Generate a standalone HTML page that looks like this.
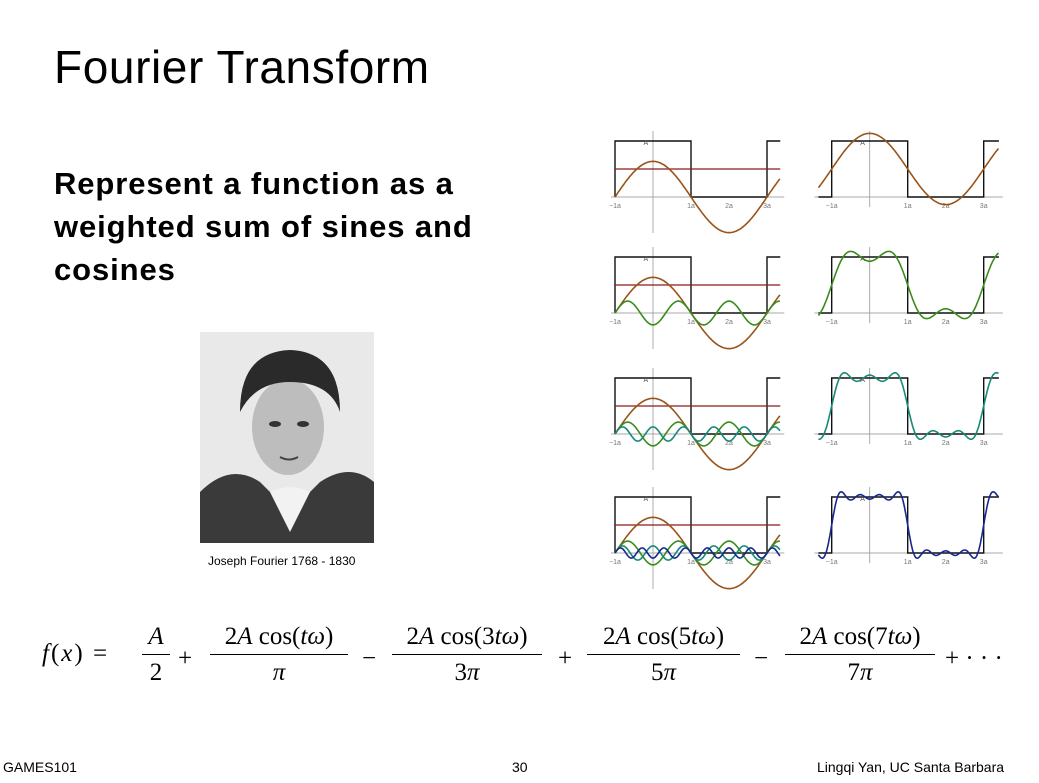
<!DOCTYPE html>
<html><head><meta charset="utf-8">
<style>
body{margin:0;background:#fff;}
#slide{position:relative;width:1039px;height:783px;overflow:hidden;background:#fff;font-family:"Liberation Sans",sans-serif;color:#000;}
.abs{position:absolute;white-space:nowrap;}
.m{font-family:"Liberation Serif",serif;font-size:25px;}
.i{font-style:italic;}
.frac{position:absolute;top:620px;text-align:center;font-family:"Liberation Serif",serif;font-size:25px;}
.frac .num{height:34px;line-height:34px;}
.frac .bar{border-top:1.3px solid #000;}
.frac .den{height:34px;line-height:36px;}
</style></head><body>
<div id="slide">
<div class="abs" style="left:54px;top:40px;font-size:46px;font-weight:300;letter-spacing:0.6px;">Fourier Transform</div>
<div class="abs" style="left:54px;top:162px;font-size:31px;font-weight:bold;line-height:43px;letter-spacing:0.9px;">Represent a function as a<br>weighted sum of sines and<br>cosines</div>

<svg class="abs" style="left:200px;top:332px" width="174" height="211">
<rect width="174" height="211" fill="#e9e9e9"/>
<path d="M0 211 L0 160 Q30 130 60 150 L90 180 L120 150 Q150 130 174 150 L174 211Z" fill="#3a3a3a"/>
<path d="M70 160 L90 200 L110 160 Q90 150 70 160Z" fill="#f2f2f2"/>
<ellipse cx="88" cy="95" rx="36" ry="48" fill="#bdbdbd"/>
<path d="M40 80 Q40 20 90 18 Q140 20 140 80 Q130 50 90 50 Q55 50 40 80Z" fill="#2a2a2a"/>
<ellipse cx="75" cy="92" rx="6" ry="3" fill="#333"/><ellipse cx="103" cy="92" rx="6" ry="3" fill="#333"/>
<path d="M80 125 Q89 130 98 125" stroke="#444" stroke-width="2" fill="none"/>
</svg>
<div class="abs" style="left:208px;top:554px;font-size:12px;">Joseph Fourier 1768 - 1830</div>

<svg id="plots" class="abs" style="left:0;top:0" width="1039" height="610"></svg>

<div class="abs m" style="left:42px;top:640px;letter-spacing:2px;"><span class="i">f</span>(<span class="i">x</span>)&nbsp;=</div>
<div class="frac" style="left:142px;width:28px;"><div class="num i">A</div><div class="bar"></div><div class="den">2</div></div>
<div class="abs m" style="left:178px;top:645px;">+</div>
<div class="frac" style="left:210px;width:138px;"><div class="num">2<span class="i">A</span> cos(<span class="i">tω</span>)</div><div class="bar"></div><div class="den i">π</div></div>
<div class="abs m" style="left:362px;top:645px;">−</div>
<div class="frac" style="left:392px;width:150px;"><div class="num">2<span class="i">A</span> cos(3<span class="i">tω</span>)</div><div class="bar"></div><div class="den">3<span class="i">π</span></div></div>
<div class="abs m" style="left:558px;top:645px;">+</div>
<div class="frac" style="left:587px;width:153px;"><div class="num">2<span class="i">A</span> cos(5<span class="i">tω</span>)</div><div class="bar"></div><div class="den">5<span class="i">π</span></div></div>
<div class="abs m" style="left:754px;top:645px;">−</div>
<div class="frac" style="left:785px;width:150px;"><div class="num">2<span class="i">A</span> cos(7<span class="i">tω</span>)</div><div class="bar"></div><div class="den">7<span class="i">π</span></div></div>
<div class="abs m" style="left:945px;top:645px;">+ · · ·</div>

<div class="abs" style="left:3px;top:759px;font-size:14px;">GAMES101</div>
<div class="abs" style="left:512px;top:759px;font-size:14px;">30</div>
<div class="abs" style="left:817px;top:759px;font-size:14px;">Lingqi Yan, UC Santa Barbara</div>
</div>
<script>
const harmonics=[1,3,5,7];
const harmonicColors=["#9a5418","#3a8c1c","#178a78","#18288e"];
const rowBases=[197,313,434,553];
const ampA=1;
const NS="http://www.w3.org/2000/svg";
const svg=document.getElementById('plots');
const U=38, AH=56;
function term(k,x){return (((k-1)/2)%2?-1:1)*2*ampA/(k*Math.PI)*Math.cos(k*Math.PI*x/2);}
function mk(tag,attrs){const e=document.createElementNS(NS,tag);for(const k in attrs)e.setAttribute(k,attrs[k]);svg.appendChild(e);return e;}
function poly(pts,col,w){return mk('polyline',{points:pts.map(p=>p[0].toFixed(1)+','+p[1].toFixed(1)).join(' '),fill:'none',stroke:col,'stroke-width':w});}
function plot(x0,base,xmin,xmax,row,right){
  const sx=x=>x0+x*U, sy=v=>base-v*AH;
  const ax=mk('line',{x1:sx(xmin)-4,y1:base,x2:sx(xmax)+4,y2:base,stroke:'#aaa','stroke-width':1});
  
  const ay=mk('line',{x1:sx(0),y1:base-66,x2:sx(0),y2:base+(right?10:36),stroke:'#999','stroke-width':0.8});
  
  const sq=[[sx(xmin),sy(0)],[sx(-1),sy(0)],[sx(-1),sy(1)],[sx(1),sy(1)],[sx(1),sy(0)],[sx(3),sy(0)],[sx(3),sy(1)],[sx(xmax),sy(1)]];
  const s=poly(sq,'#111',1.4);
  const lbl=[[-1,'−1a'],[1,'1a'],[2,'2a'],[3,'3a']];
  lbl.forEach(l=>{const t=mk('text',{x:sx(l[0]),y:base+11,'font-size':7,fill:'#777','text-anchor':'middle','font-family':'Liberation Sans'});t.textContent=l[1];});
  const ta=mk('text',{x:sx(-0.25),y:sy(1)+4,'font-size':7,fill:'#555','font-family':'Liberation Sans'});ta.textContent='A';
  
  if(!right){
    const r=mk('line',{x1:sx(xmin),y1:sy(0.5),x2:sx(xmax),y2:sy(0.5),stroke:'#8b1a1a','stroke-width':1.2});
    
    for(let h=0;h<=row;h++){const pts=[];for(let x=xmin;x<=xmax+1e-6;x+=0.02)pts.push([sx(x),sy(term(harmonics[h],x))]);
      const p=poly(pts,harmonicColors[h],1.6);}
  }else{
    const pts=[];for(let x=xmin;x<=xmax+1e-6;x+=0.02){let v=0.5*ampA;for(let h=0;h<=row;h++)v+=term(harmonics[h],x);pts.push([sx(x),sy(v)]);}
    const p=poly(pts,harmonicColors[row],1.6);
  }
}
rowBases.forEach((b,i)=>{plot(653,b,-1,3.35,i,false);plot(869.7,b,-1.35,3.4,i,true);});
</script>
</body></html>
